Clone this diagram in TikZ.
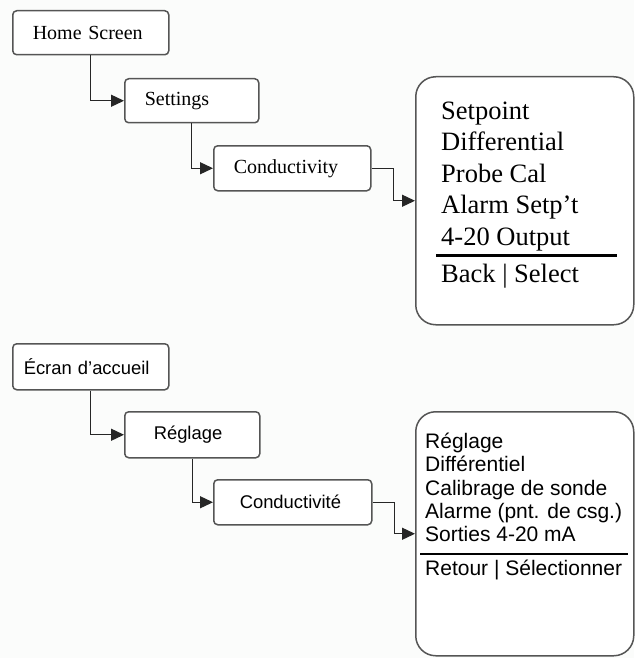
\documentclass[tikz,border=0pt]{standalone}
\usepackage{fontspec}
\setmainfont{Liberation Serif}
\newfontfamily\sansfr{Liberation Sans}
\usetikzlibrary{arrows.meta}
\definecolor{pagebg}{RGB}{251,252,251}
\definecolor{boxline}{RGB}{85,85,85}
\tikzset{
  stepbox/.style={draw=boxline, line width=1.5pt, fill=white, rounded corners=4pt,
    anchor=north west, align=left, minimum height=44pt, inner xsep=20pt, inner ysep=0pt},
  screenbox/.style={draw=boxline, line width=1.5pt, fill=white, rounded corners=20pt,
    anchor=north west, minimum width=218pt, inner sep=0pt},
  link/.style={draw=black!85, line width=1.3pt, -{Triangle[length=13pt,width=12pt]}},
  ensteps/.style={font=\fontsize{20}{24}\selectfont},
  frsteps/.style={font=\sansfr\fontsize{18.4}{22}\selectfont},
}
\begin{document}
\begin{tikzpicture}[x=1pt,y=-1pt]
            \useasboundingbox (0,0) rectangle (634,658);
            \fill[pagebg] (0,0) rectangle (634,658);%

            % Drawing steps (English)
            \node[stepbox, ensteps, text width=116pt] (home) at (12,10) {Home Screen};%
            \node[stepbox, ensteps, text width=94pt] (settings) at (124,78) {Settings};%
            \node[stepbox, ensteps, text width=117pt, minimum height=45pt] (cond) at (213,145) {Conductivity};%

            % Drawing screen (English)
            \node[screenbox, minimum height=248pt] (upmenu) at (415,76) {};%
            \node[anchor=north west, inner sep=0pt, align=left,
                  font=\fontsize{26.5}{31.5}\selectfont] (uplist) at (441,101.5)
                  {Setpoint\\Differential\\Probe Cal\\Alarm Setp’t\\4-20 Output};%
            \draw[line width=3pt] (436,255) -- (617,255);%
            \node[anchor=base west, inner sep=0pt, font=\fontsize{26.5}{31.5}\selectfont]
                  (upkeys) at (441,282.7) {Back | Select};%

            % Drawing links (English)
            \draw[link] (home.south) |- (settings.west);%
            \draw[link] (settings.south) |- (cond.west);%
            \draw[link] (cond.east) -- ++(22,0) |- (upmenu.west);%

            % Drawing steps (French)
            \node[stepbox, frsteps, text width=134pt, inner xsep=11pt, minimum height=46pt] (ecran) at (12,343) {Écran d’accueil};%
            \node[stepbox, frsteps, text width=77pt, inner xsep=29pt, minimum height=46pt] (reglage) at (124,411) {Réglage};%
            \node[stepbox, frsteps, text width=106pt, inner xsep=26pt, minimum height=45pt] (condfr) at (213,479) {Conductivité};%

            % Drawing screen (French)
            \node[screenbox, minimum height=244pt] (lowmenu) at (415,411) {};%
            \node[anchor=north west, inner sep=0pt, align=left,
                  font=\sansfr\fontsize{21}{23.35}\selectfont] (lowlist) at (425,432.8)
                  {Réglage\\Différentiel\\Calibrage de sonde\\Alarme (pnt. de csg.)\\Sorties 4-20 mA};%
            \draw[line width=2.2pt] (420,554) -- (628,554);%
            \node[anchor=base west, inner sep=0pt, font=\sansfr\fontsize{21}{23.35}\selectfont]
                  (lowkeys) at (425,575) {Retour | Sélectionner};%

            % Drawing links (French)
            \draw[link] (ecran.south) |- (reglage.west);%
            \draw[link] (reglage.south) |- (condfr.west);%
            \draw[link] (condfr.east) -- ++(22,0) |- (lowmenu.west);%
\end{tikzpicture}
\end{document}
